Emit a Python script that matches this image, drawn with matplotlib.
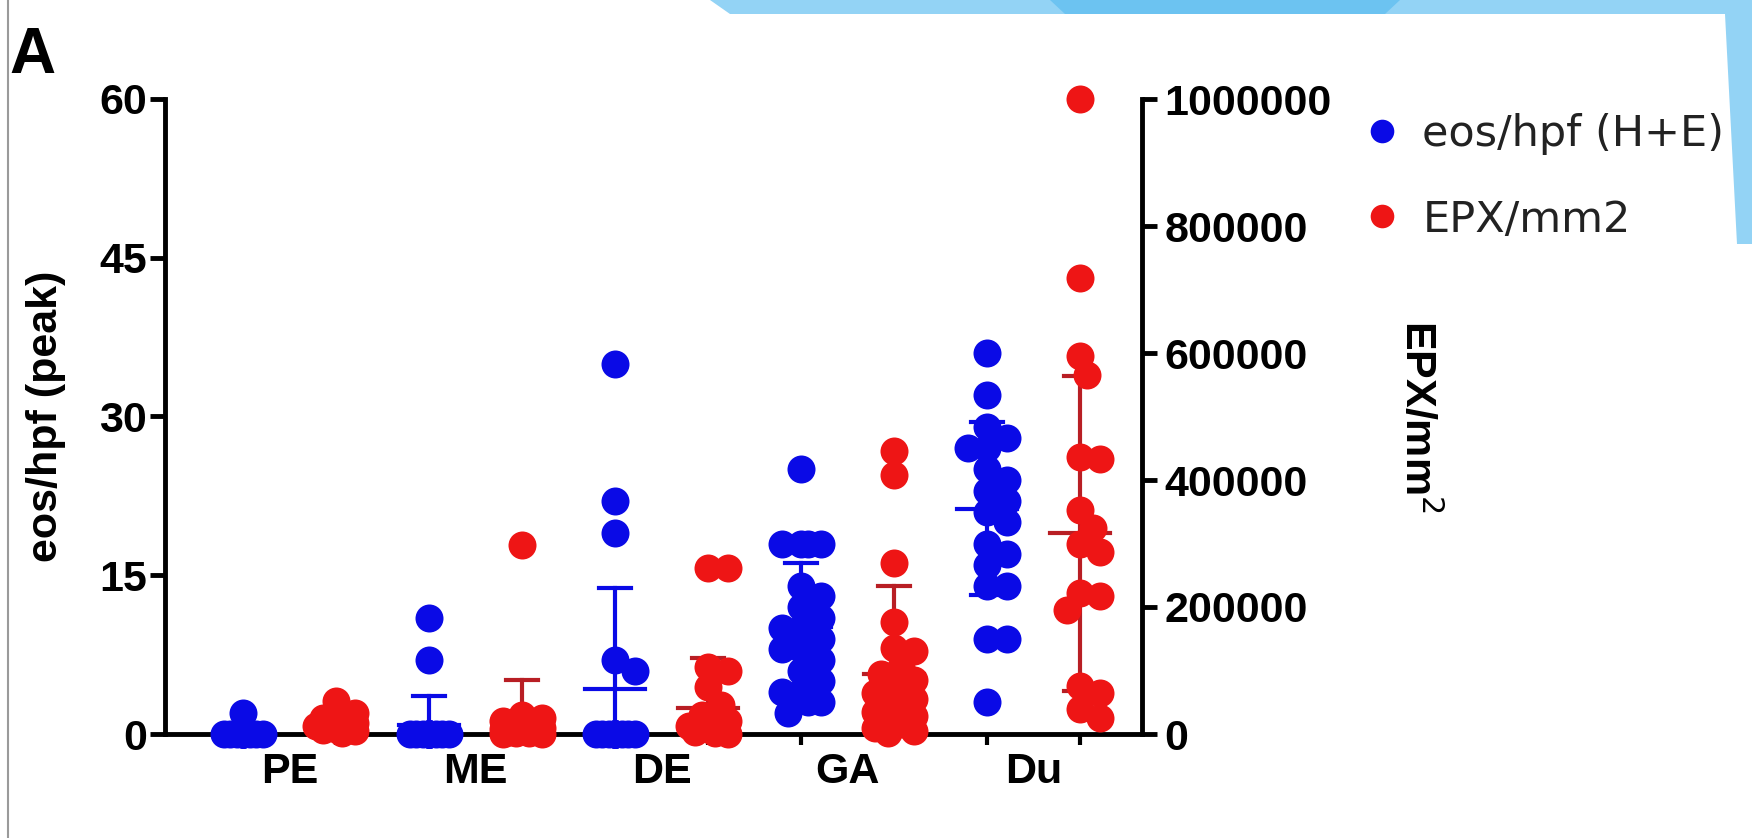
import numpy as np
import matplotlib.pyplot as plt
from matplotlib.lines import Line2D
from matplotlib.patches import Polygon

groups = ['PE', 'ME', 'DE', 'GA', 'Du']

# eos/hpf (H+E), peak count per group
eos_pe = [2, 0, 0, 0, 0, 0, 0, 0, 0, 0, 0, 0, 0, 0]
eos_me = [11, 7, 0, 0, 0, 0, 0, 0, 0, 0, 0, 0, 0, 0, 0, 0, 0, 0]
eos_de = [35, 22, 19, 7, 6, 0, 0, 0, 0, 0, 0, 0, 0, 0, 0, 0, 0, 0, 0, 0, 0]
eos_ga = [25, 18, 18, 18, 18, 14, 13, 12, 11, 10, 10, 9, 9, 9, 8, 8, 7, 6, 5, 4, 4, 3, 3, 2]
eos_du = [36, 32, 29, 28, 27, 27, 25, 24, 23, 22, 21, 20, 18, 17, 16, 14, 14, 9, 9, 3]

# EPX/mm2 per group
epx_pe = [52000, 33000, 25000, 22000, 18000, 15000, 12000, 10000, 8000, 6000, 4000, 2000]
epx_me = [298000, 30000, 25000, 20000, 15000, 12000, 10000, 8000, 6000, 4000, 3000, 2000, 1000, 0, 0]
epx_de = [262000, 262000, 105000, 100000, 74000, 45000, 30000, 20000, 12000, 8000, 5000, 3000, 1000, 0]
epx_ga = [445000, 408000, 270000, 176000, 135000, 130000, 105000, 95000, 85000, 75000,
          65000, 55000, 45000, 35000, 28000, 20000, 15000, 10000, 5000, 2000]
epx_du = [1000000, 718000, 595000, 565000, 437000, 433000, 353000, 325000, 300000, 287000,
          222000, 218000, 195000, 75000, 65000, 40000, 25000]

# mean and SD bars
eos_mean = [0.1, 0.85, 4.25, 10.1, 21.3]
eos_sd = [0.5, 2.75, 9.55, 6.1, 8.2]
epx_mean = [15000, 20000, 41000, 95000, 316000]
epx_sd = [12000, 65000, 79000, 138000, 248000]

BLUE = '#0a0ae6'
RED = '#ee1515'
RED_BAR = '#b81e24'

W, H = 1752, 838
fig = plt.figure(figsize=(W / 100, H / 100), dpi=100)
ax = fig.add_axes([165 / W, 1 - 734 / H, (1142 - 165) / W, (734 - 99) / H])
ax2 = ax.twinx()

XPX = 93.0            # pixels per x unit
YPX = 635 / 60.0      # pixels per left-axis unit
DIAM = 28.0           # marker diameter in px


def swarm(vals, center, scale):
    # simple beeswarm in pixel space
    vals = np.asarray(vals, float)
    ys = vals * scale
    offs = np.zeros(len(vals))
    cands = [0.0]
    for k in range(1, 4):
        cands += [6.5 * k, -6.5 * k]
    placed = []
    for i in np.argsort(-vals):
        best, bestd = 0.0, -1
        for c in cands:
            dmin = min([np.hypot(c - px, ys[i] - py) for px, py in placed] or [1e9])
            if dmin >= 0.7 * DIAM:
                best = c
                break
            if dmin > bestd:
                best, bestd = c, dmin
        offs[i] = best
        placed.append((best, ys[i]))
    return center + offs / XPX


eos_all = [eos_pe, eos_me, eos_de, eos_ga, eos_du]
epx_all = [epx_pe, epx_me, epx_de, epx_ga, epx_du]
s = (DIAM * 0.72) ** 2

for g in range(5):
    xb = 2 * g
    xr = 2 * g + 1
    ax.scatter(swarm(eos_all[g], xb, YPX), eos_all[g], s=s, color=BLUE,
               lw=0, clip_on=False, zorder=3)
    ax2.scatter(swarm(np.array(epx_all[g]) / 1e6 * 60, xr, YPX), epx_all[g], s=s,
                color=RED, lw=0, clip_on=False, zorder=3)
    # mean +/- SD, drawn under the points
    m, sd = eos_mean[g], eos_sd[g]
    ax.plot([xb, xb], [max(m - sd, 0), m + sd], color=BLUE, lw=3, zorder=2)
    ax.plot([xb - 0.32, xb + 0.32], [m, m], color=BLUE, lw=3, zorder=2)
    for v in (m - sd, m + sd):
        if v > 0:
            ax.plot([xb - 0.17, xb + 0.17], [v, v], color=BLUE, lw=3, zorder=2)
    m, sd = epx_mean[g], epx_sd[g]
    ax2.plot([xr, xr], [max(m - sd, 0), m + sd], color=RED_BAR, lw=3, zorder=2)
    ax2.plot([xr - 0.32, xr + 0.32], [m, m], color=RED_BAR, lw=3, zorder=2)
    for v in (m - sd, m + sd):
        if v > 0:
            ax2.plot([xr - 0.17, xr + 0.17], [v, v], color=RED_BAR, lw=3, zorder=2)

ax.set_xlim(-78 / XPX, 9 + 62 / XPX)
ax.set_ylim(0, 60)
ax2.set_ylim(0, 1000000)

for a in (ax, ax2):
    for sp in a.spines.values():
        sp.set_linewidth(3.5)
        sp.set_color('black')
ax.spines['top'].set_visible(False)
ax.spines['right'].set_visible(False)
for side in ('top', 'left', 'bottom'):
    ax2.spines[side].set_visible(False)

tick_font = dict(family='Liberation Sans', weight='bold', size=31)
ax.set_yticks([0, 15, 30, 45, 60])
ax.set_yticklabels(['0', '15', '30', '45', '60'], fontdict=tick_font)
ax2.set_yticks([0, 200000, 400000, 600000, 800000, 1000000])
ax2.set_yticklabels(['0', '200000', '400000', '600000', '800000', '1000000'], fontdict=tick_font)
ax.tick_params(axis='y', length=11, width=3.5, pad=2)
ax2.tick_params(axis='y', length=11, width=3.5, pad=5)

ax.set_xticks(range(10))
ax.set_xticklabels([])
ax.tick_params(axis='x', length=8, width=3)
for g, name in enumerate(groups):
    ax.text(2 * g + 0.5, -38 / YPX, name, ha='center', va='center',
            fontdict=tick_font, clip_on=False)

ax.set_ylabel('eos/hpf (peak)', family='Liberation Sans', weight='bold', size=31, labelpad=24)
ax2.set_ylabel('EPX/mm$^2$', family='Liberation Sans', weight='bold', size=31,
               rotation=270, labelpad=78)

handles = [Line2D([], [], ls='none', marker='o', ms=17, color=BLUE, mec='none'),
           Line2D([], [], ls='none', marker='o', ms=17, color=RED, mec='none')]
fig.legend(handles, ['eos/hpf (H+E)', 'EPX/mm2'], loc='center left',
           bbox_to_anchor=(1360 / W, 1 - 177 / H), frameon=False,
           prop=dict(family='DejaVu Sans', size=31), labelcolor='#222222',
           handlelength=1.0, handletextpad=0.45, labelspacing=1.0,
           borderpad=0, borderaxespad=0)

fig.text(9 / W, 1 - 56 / H, 'A', family='Liberation Sans', weight='bold', size=46,
         va='center', ha='left')

# slide border / decoration
fig.add_artist(Line2D([8 / W, 8 / W], [0, 1], color='#9a9a9a', lw=1.5))
band = Polygon([(710 / W, 1), (1, 1), (1, 1 - 244 / H), (1737 / W, 1 - 244 / H),
                (1725 / W, 1 - 14 / H), (730 / W, 1 - 14 / H)], closed=True,
               transform=fig.transFigure, color='#93d3f5', lw=0)
fig.add_artist(band)
mid = Polygon([(1050 / W, 1), (1400 / W, 1), (1385 / W, 1 - 14 / H), (1065 / W, 1 - 14 / H)],
              closed=True, transform=fig.transFigure, color='#6cc3f1', lw=0)
fig.add_artist(mid)

fig.savefig('out.png', dpi=100)
